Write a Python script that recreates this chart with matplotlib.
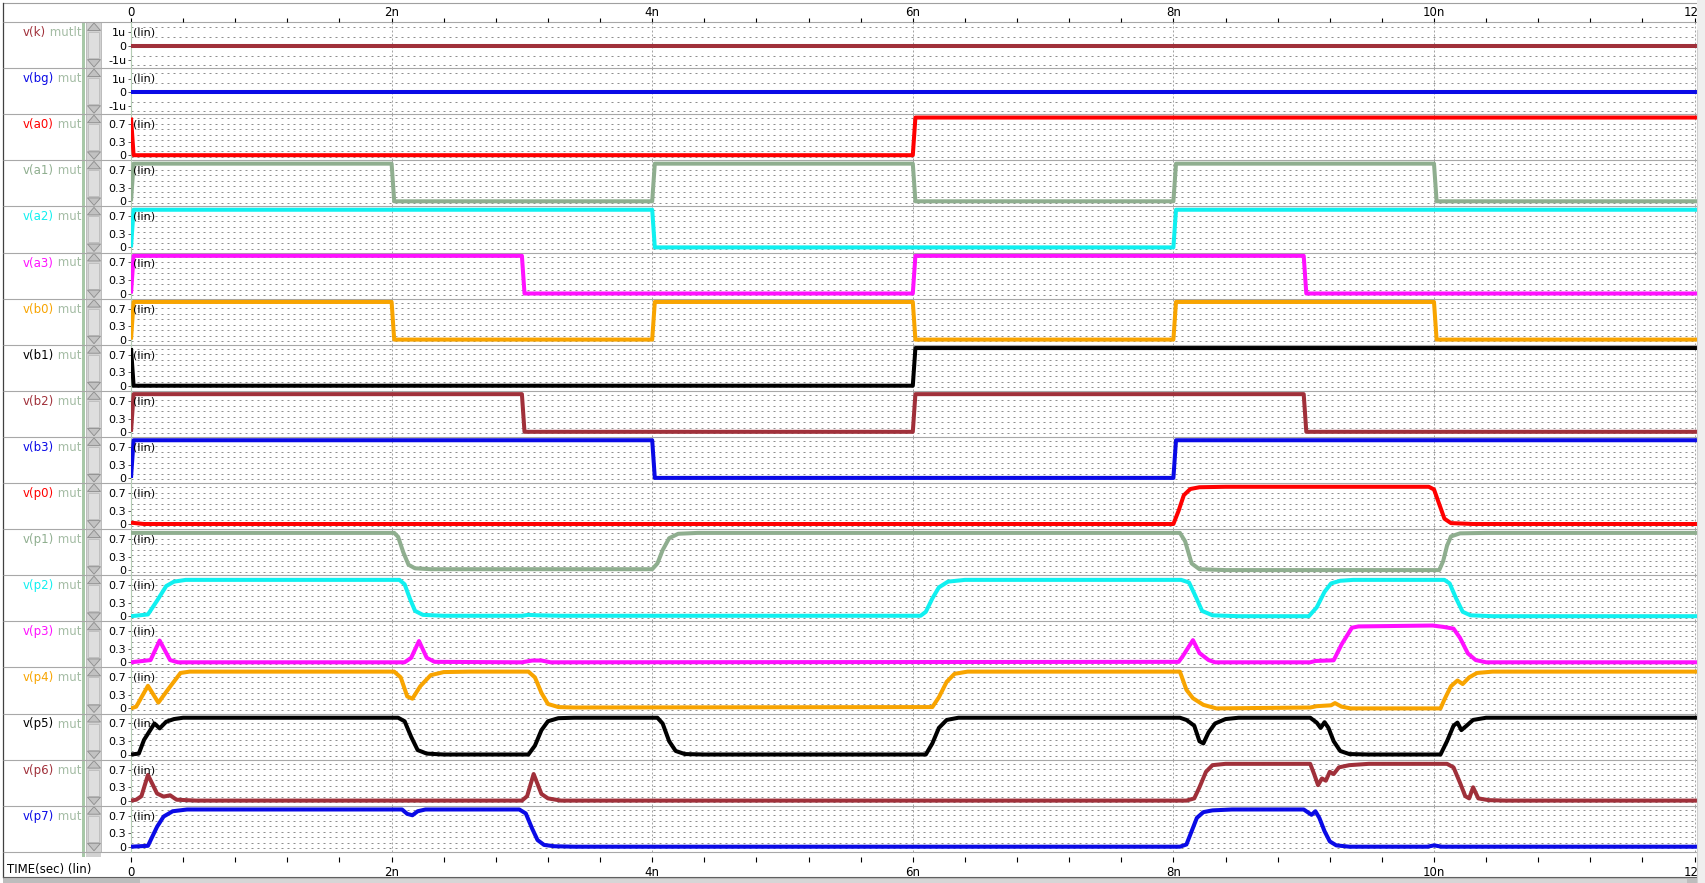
import matplotlib
matplotlib.use('Agg')
import matplotlib.pyplot as plt
from matplotlib.patches import Rectangle, Polygon
from matplotlib.ticker import MultipleLocator

plt.rcParams['lines.scale_dashes'] = False
plt.rcParams['font.family'] = ['DejaVu Sans']

# ------------------------------------------------------------------ data
SIGNALS = ['k', 'bg', 'a0', 'a1', 'a2', 'a3', 'b0', 'b1', 'b2', 'b3',
           'p0', 'p1', 'p2', 'p3', 'p4', 'p5', 'p6', 'p7']
MAROON, BLUE, RED, GRAYGREEN = '#a0303a', '#0a0ae6', '#ff0000', '#8fae8f'
CYAN, MAGENTA, ORANGE, BLACK = '#10f0f0', '#ff10ff', '#f8a400', '#000000'
COLORS = [MAROON, BLUE, RED, GRAYGREEN, CYAN, MAGENTA, ORANGE, BLACK,
          MAROON, BLUE, RED, GRAYGREEN, CYAN, MAGENTA, ORANGE, BLACK,
          MAROON, BLUE]
UV_SIGNALS = ['k', 'bg']
INSTANCE = 'mutltest'

TIME_TICKS = [0, 2, 4, 6, 8, 10, 12]
TIME_TICK_LABELS = ['0', '2n', '4n', '6n', '8n', '10n', '12n']
DIG_TICKS = [0, 0.3, 0.7]
DIG_TICK_LABELS = ['0', '0.3', '0.7']
UV_TICKS = [-1, 0, 1]
UV_TICK_LABELS = ['-1u', '0', '1u']

T_END = 12.02
K_WAVE = [(0, 0.0), (T_END, 0.0)]
BG_WAVE = [(0, 0.0), (T_END, 0.0)]

# input pulse edges (ns) and logic level after each edge
EDGES = [0, 2, 3, 4, 6, 8, 9, 10]
V_HIGH = 0.85
A0_START, A0_LEVELS = 0.85, [0, 0, 0, 0, 1, 1, 1, 1]
A1_START, A1_LEVELS = 0.0, [1, 0, 0, 1, 0, 1, 1, 0]
A2_START, A2_LEVELS = 0.0, [1, 1, 1, 0, 0, 1, 1, 1]
A3_START, A3_LEVELS = 0.0, [1, 1, 0, 0, 1, 1, 0, 0]
B0_START, B0_LEVELS = 0.0, [1, 0, 0, 1, 0, 1, 1, 0]
B1_START, B1_LEVELS = 0.85, [0, 0, 0, 0, 1, 1, 1, 1]
B2_START, B2_LEVELS = 0.0, [1, 1, 0, 0, 1, 1, 0, 0]
B3_START, B3_LEVELS = 0.0, [1, 1, 1, 0, 0, 1, 1, 1]

P0 = [(0, 0.03), (0.1, 0.0), (8.0, 0.0), (8.04, 0.3), (8.08, 0.65), (8.13, 0.79),
      (8.2, 0.83), (8.4, 0.84), (9.96, 0.84), (10.0, 0.78), (10.04, 0.45),
      (10.08, 0.12), (10.13, 0.02), (10.3, 0.0), (T_END, 0.0)]
P1 = [(0, 0.84), (2.02, 0.84), (2.05, 0.75), (2.09, 0.4), (2.13, 0.12), (2.18, 0.04),
      (2.3, 0.02), (4.0, 0.02), (4.04, 0.15), (4.08, 0.45), (4.13, 0.72), (4.2, 0.82),
      (4.35, 0.84), (8.05, 0.84), (8.09, 0.65), (8.14, 0.15), (8.2, 0.02), (8.4, 0.0),
      (10.04, 0.0), (10.07, 0.2), (10.1, 0.55), (10.13, 0.76), (10.2, 0.83),
      (10.4, 0.84), (T_END, 0.84)]
P2 = [(0, 0.0), (0.13, 0.04), (0.2, 0.35), (0.27, 0.68), (0.33, 0.78), (0.42, 0.82),
      (2.06, 0.82), (2.1, 0.72), (2.14, 0.4), (2.18, 0.12), (2.24, 0.03), (2.4, 0.01),
      (3.0, 0.01), (3.05, 0.03), (3.12, 0.02), (3.3, 0.01), (6.06, 0.01), (6.1, 0.1),
      (6.15, 0.4), (6.2, 0.65), (6.27, 0.78), (6.4, 0.82), (8.06, 0.82), (8.12, 0.76),
      (8.17, 0.45), (8.22, 0.12), (8.3, 0.02), (8.5, 0.0), (9.04, 0.0), (9.1, 0.2),
      (9.16, 0.55), (9.21, 0.74), (9.28, 0.8), (9.38, 0.82), (10.08, 0.82),
      (10.12, 0.74), (10.17, 0.4), (10.22, 0.1), (10.28, 0.02), (10.45, 0.0),
      (T_END, 0.0)]
P3 = [(0, 0.0), (0.15, 0.05), (0.22, 0.49), (0.3, 0.05), (0.36, 0.0), (2.1, 0.0),
      (2.15, 0.1), (2.21, 0.48), (2.27, 0.1), (2.33, 0.01), (3.0, 0.0), (3.08, 0.04),
      (3.15, 0.04), (3.22, 0.0), (8.04, 0.01), (8.07, 0.13), (8.15, 0.5), (8.2, 0.21),
      (8.27, 0.05), (8.32, 0.0), (9.05, 0.0), (9.09, 0.03), (9.23, 0.045),
      (9.29, 0.4), (9.37, 0.78), (9.42, 0.81), (9.99, 0.83), (10.07, 0.8),
      (10.15, 0.76), (10.2, 0.55), (10.26, 0.2), (10.32, 0.05), (10.4, 0.0),
      (T_END, 0.0)]
P4 = [(0, 0.0), (0.04, 0.04), (0.13, 0.51), (0.21, 0.13), (0.3, 0.49), (0.38, 0.8),
      (0.45, 0.83), (2.02, 0.83), (2.07, 0.7), (2.12, 0.27), (2.16, 0.22), (2.22, 0.5),
      (2.3, 0.75), (2.4, 0.82), (2.6, 0.83), (3.05, 0.83), (3.1, 0.7), (3.15, 0.35),
      (3.2, 0.1), (3.28, 0.03), (3.4, 0.02), (6.15, 0.03), (6.2, 0.25), (6.26, 0.6),
      (6.32, 0.78), (6.42, 0.83), (8.05, 0.83), (8.1, 0.42), (8.15, 0.23),
      (8.23, 0.08), (8.33, 0.0), (9.05, 0.02), (9.1, 0.05), (9.21, 0.07),
      (9.24, 0.12), (9.29, 0.04), (9.36, 0.0), (10.05, 0.0), (10.08, 0.2),
      (10.13, 0.5), (10.18, 0.63), (10.22, 0.55), (10.27, 0.7), (10.33, 0.8),
      (10.45, 0.83), (T_END, 0.83)]
P5 = [(0, 0.0), (0.06, 0.02), (0.1, 0.33), (0.18, 0.7), (0.22, 0.59), (0.27, 0.74),
      (0.33, 0.8), (0.4, 0.83), (2.05, 0.83), (2.1, 0.75), (2.15, 0.4), (2.2, 0.1),
      (2.27, 0.02), (2.4, 0.0), (3.05, 0.0), (3.1, 0.2), (3.15, 0.55), (3.2, 0.75),
      (3.28, 0.82), (3.4, 0.83), (4.04, 0.83), (4.08, 0.7), (4.13, 0.3), (4.18, 0.08),
      (4.25, 0.01), (4.4, 0.0), (6.1, 0.0), (6.15, 0.25), (6.2, 0.6), (6.26, 0.78),
      (6.35, 0.83), (8.05, 0.83), (8.1, 0.78), (8.16, 0.65), (8.2, 0.3), (8.23, 0.25),
      (8.27, 0.5), (8.32, 0.7), (8.4, 0.8), (8.5, 0.83), (9.05, 0.83), (9.1, 0.72),
      (9.13, 0.6), (9.16, 0.73), (9.19, 0.6), (9.23, 0.3), (9.28, 0.08), (9.35, 0.01),
      (9.5, 0.0), (10.05, 0.0), (10.1, 0.3), (10.15, 0.65), (10.18, 0.72),
      (10.21, 0.55), (10.25, 0.65), (10.3, 0.78), (10.4, 0.83), (T_END, 0.83)]
P6 = [(0, 0.0), (0.04, 0.02), (0.08, 0.1), (0.13, 0.58), (0.2, 0.16), (0.25, 0.09),
      (0.3, 0.12), (0.35, 0.02), (0.5, 0.0), (3.0, 0.0), (3.04, 0.1), (3.09, 0.6),
      (3.15, 0.15), (3.2, 0.05), (3.3, 0.0), (8.1, 0.0), (8.16, 0.05), (8.2, 0.3),
      (8.25, 0.65), (8.3, 0.8), (8.4, 0.83), (9.05, 0.83), (9.08, 0.6), (9.11, 0.35),
      (9.14, 0.5), (9.17, 0.45), (9.2, 0.65), (9.23, 0.6), (9.27, 0.75), (9.35, 0.8),
      (9.5, 0.83), (10.1, 0.83), (10.15, 0.75), (10.2, 0.4), (10.24, 0.1),
      (10.27, 0.05), (10.3, 0.3), (10.34, 0.05), (10.42, 0.01), (10.55, 0.0),
      (T_END, 0.0)]
P7 = [(0, 0.0), (0.13, 0.02), (0.2, 0.45), (0.25, 0.68), (0.32, 0.8), (0.43, 0.84),
      (2.08, 0.84), (2.12, 0.74), (2.16, 0.71), (2.2, 0.8), (2.26, 0.84), (2.98, 0.84),
      (3.03, 0.75), (3.08, 0.4), (3.12, 0.15), (3.17, 0.04), (3.25, 0.01), (3.4, 0.0),
      (8.05, 0.0), (8.1, 0.05), (8.14, 0.35), (8.18, 0.65), (8.23, 0.78), (8.3, 0.82),
      (8.45, 0.84), (9.0, 0.84), (9.03, 0.78), (9.06, 0.72), (9.09, 0.8), (9.12, 0.65),
      (9.16, 0.35), (9.2, 0.12), (9.25, 0.03), (9.35, 0.0), (9.95, 0.0), (10.0, 0.03),
      (10.06, 0.0), (T_END, 0.0)]


def step_wave(start, levels, edges, tr=0.02):
    t, v = [0.0], [start]
    cur = start
    for e, lv in zip(edges, levels):
        tgt = lv * V_HIGH
        if tgt != cur:
            t += [e, e + tr]
            v += [cur, tgt]
            cur = tgt
    t.append(T_END)
    v.append(cur)
    return t, v


def pairs(w):
    return [p[0] for p in w], [p[1] for p in w]


WAVES = {
    'k': pairs(K_WAVE), 'bg': pairs(BG_WAVE),
    'a0': step_wave(A0_START, A0_LEVELS, EDGES), 'a1': step_wave(A1_START, A1_LEVELS, EDGES),
    'a2': step_wave(A2_START, A2_LEVELS, EDGES), 'a3': step_wave(A3_START, A3_LEVELS, EDGES),
    'b0': step_wave(B0_START, B0_LEVELS, EDGES), 'b1': step_wave(B1_START, B1_LEVELS, EDGES),
    'b2': step_wave(B2_START, B2_LEVELS, EDGES), 'b3': step_wave(B3_START, B3_LEVELS, EDGES),
    'p0': pairs(P0), 'p1': pairs(P1), 'p2': pairs(P2), 'p3': pairs(P3),
    'p4': pairs(P4), 'p5': pairs(P5), 'p6': pairs(P6), 'p7': pairs(P7),
}

# ------------------------------------------------------------------ layout
W, H = 1706, 883
fig = plt.figure(figsize=(W / 100, H / 100), dpi=100)
fig.patch.set_facecolor('white')


def rect(x0, y0, x1, y1):
    return [x0 / W, 1 - y1 / H, (x1 - x0) / W, (y1 - y0) / H]


X0, X1 = 131, 1697
PX_PER_NS = 130.3
XMAX = (X1 - X0) / PX_PER_NS
TOP0, PH = 22.0, 46.1
N = len(SIGNALS)
tops = [TOP0 + i * PH for i in range(N + 1)]

SEP = '#a8a8a8'

# background furniture axes (pixel coordinates)
bg = fig.add_axes([0, 0, 1, 1])
bg.set_xlim(0, W)
bg.set_ylim(H, 0)
bg.axis('off')
bg.set_zorder(0)

bg.plot([3, X1], [3, 3], color='#a0a0a0', lw=0.8)
bg.plot([3.5, 3.5], [3, 877], color='#404040', lw=0.9)
bg.add_patch(Rectangle((82, TOP0), 3, 857 - TOP0, facecolor='#a8c8a8', edgecolor='none'))
for i in range(N):
    t0, t1 = tops[i], tops[i + 1]
    bg.add_patch(Rectangle((86.5, t0), 15, t1 - t0, facecolor='#d2d2d2',
                           edgecolor='#b4b4b4', lw=0.6))
    bg.add_patch(Rectangle((88.5, t0 + 10), 11, t1 - t0 - 20, facecolor='#dedede',
                           edgecolor='#bcbcbc', lw=0.6))
    bg.add_patch(Polygon([(87.5, t0 + 8.5), (100.5, t0 + 8.5), (94, t0 + 1)],
                         closed=True, facecolor='#c2c2c2', edgecolor='#8c8c8c', lw=0.6))
    bg.add_patch(Polygon([(87.5, t1 - 8.5), (100.5, t1 - 8.5), (94, t1 - 1)],
                         closed=True, facecolor='#c2c2c2', edgecolor='#8c8c8c', lw=0.6))
bg.add_patch(Rectangle((86.5, tops[-1]), 15, 5, facecolor='#d2d2d2', edgecolor='none'))
for y in tops:
    bg.plot([3, X1], [y, y], color=SEP, lw=0.8, solid_capstyle='butt')
bg.plot([3, X1], [877, 877], color='#606060', lw=0.8)
bg.add_patch(Rectangle((3, 878), X1 - 3, 5, facecolor='#bdbdbd', edgecolor='none'))
bg.add_patch(Rectangle((140, 879), X1 - 150, 4, facecolor='#d6d6d6', edgecolor='none'))
bg.text(7, 870, 'TIME(sec) (lin)', fontsize=8.5, va='center', ha='left', color='black')

# signal name labels
lab = fig.add_axes(rect(3, 0, 82, H))
lab.set_xlim(3, 82)
lab.set_ylim(H, 0)
lab.axis('off')
lab.patch.set_visible(False)
lab.set_zorder(3)
renderer = fig.canvas.get_renderer()
for i, (name, col) in enumerate(zip(SIGNALS, COLORS)):
    yb = tops[i] + 14
    t1 = lab.text(23, yb, f'v({name})', color=col, fontsize=8.5, va='baseline',
                  ha='left', clip_on=True)
    w = t1.get_window_extent(renderer=renderer).width
    lab.text(23 + w, yb, ' ' + INSTANCE, color='#a4bca4', fontsize=8.5,
             va='baseline', ha='left', clip_on=True)

DIG_ROWS = [4, 9.5, 15, 20.5, 26, 31.5, 37, 42.5]
UV_ROWS = [5, 14.5, 24, 33.5, 43]

for i, (name, col) in enumerate(zip(SIGNALS, COLORS)):
    t0 = tops[i]
    ax = fig.add_axes(rect(X0, t0, X1, t0 + PH))
    ax.set_zorder(2)
    ax.patch.set_visible(False)
    ax.set_xlim(0, XMAX)
    if name in UV_SIGNALS:
        ax.set_ylim(-(PH - 24) / 13.5, 24 / 13.5)
        ax.set_yticks(UV_TICKS, UV_TICK_LABELS)
        rows = UV_ROWS
    else:
        ax.set_ylim(-(PH - 41) / 44.3, 41 / 44.3)
        ax.set_yticks(DIG_TICKS, DIG_TICK_LABELS)
        rows = DIG_ROWS
    for r in rows:
        f = 1 - r / PH
        ax.plot([0, 1], [f, f], transform=ax.transAxes, color='#8e8e8e', lw=0.72,
                ls=(0, (1.44, 2.88)), zorder=1)
    for tt in TIME_TICKS[1:]:
        ax.axvline(tt, color='#a4a4a4', lw=0.72, ls=(0, (1.44, 1.44)), zorder=1)
    for s in ('top', 'right', 'bottom'):
        ax.spines[s].set_visible(False)
    ax.spines['left'].set_color('#b4ccb4')
    ax.spines['left'].set_linewidth(0.8)
    ax.tick_params(axis='x', bottom=False, labelbottom=False)
    ax.tick_params(axis='y', length=2.2, width=0.7, color='#606060', pad=1.2,
                   labelsize=8, labelcolor='black')
    tw, vw = WAVES[name]
    ax.plot(tw, vw, color=col, lw=2.9, solid_joinstyle='round',
            solid_capstyle='butt', zorder=3)
    ax.text(2 / (X1 - X0), 1 - 10.5 / PH, '(lin)', transform=ax.transAxes,
            fontsize=8, va='center', ha='left', color='black', zorder=4)

# top time axis
axt = fig.add_axes(rect(X0, 18, X1, 22))
axt.patch.set_visible(False)
axt.set_xlim(0, XMAX)
axt.set_yticks([])
for s in ('top', 'right', 'left', 'bottom'):
    axt.spines[s].set_visible(False)
axt.set_xticks(TIME_TICKS, TIME_TICK_LABELS)
axt.xaxis.set_minor_locator(MultipleLocator(0.4))
axt.tick_params(axis='x', which='both', direction='in', length=3.0, width=0.8,
                color='black', bottom=True, top=False, labelbottom=False,
                labeltop=True, labelsize=8.5, pad=-0.5)

# bottom time axis
axb = fig.add_axes(rect(X0, 857, X1, 862))
axb.patch.set_visible(False)
axb.set_xlim(0, XMAX)
axb.set_yticks([])
for s in ('top', 'right', 'left', 'bottom'):
    axb.spines[s].set_visible(False)
axb.set_xticks(TIME_TICKS, TIME_TICK_LABELS)
axb.xaxis.set_minor_locator(MultipleLocator(0.4))
axb.tick_params(axis='x', which='both', direction='in', length=3.3, width=0.8,
                color='black', bottom=False, top=True, labelbottom=True,
                labeltop=False, labelsize=8.5, pad=3.0)

# right edge strip (covers overflow)
ov = fig.add_axes([0, 0, 1, 1])
ov.set_xlim(0, W)
ov.set_ylim(H, 0)
ov.axis('off')
ov.patch.set_visible(False)
ov.set_zorder(10)
ov.add_patch(Rectangle((X1, 0), W - X1, H, facecolor='#efefef', edgecolor='none'))
ov.plot([X1 + 0.5, X1 + 0.5], [30, H], color='#d0d0d0', lw=0.8)

fig.savefig('out.png', dpi=100, facecolor='white')
